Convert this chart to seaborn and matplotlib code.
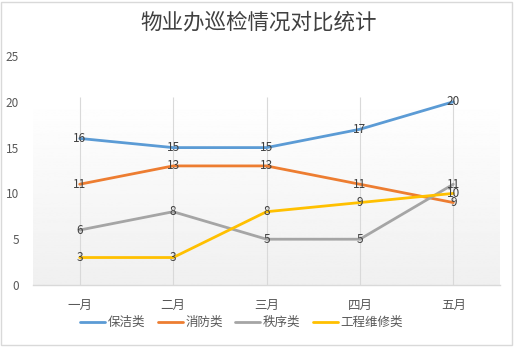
import numpy as np
import pandas as pd
import matplotlib
matplotlib.use("Agg")
import matplotlib.pyplot as plt
import seaborn as sns
from matplotlib.patches import Rectangle

months = ["一月", "二月", "三月", "四月", "五月"]
series_names = ["保洁类", "消防类", "秩序类", "工程维修类"]
baojie = [16, 15, 15, 17, 20]
xiaofang = [11, 13, 13, 11, 9]
zhixu = [6, 8, 5, 5, 11]
gongcheng = [3, 3, 8, 9, 10]
colors = ["#5B9BD5", "#ED7D31", "#A5A5A5", "#FFC000"]
yticks = [0, 5, 10, 15, 20, 25]

sns.set_theme(style="white")
plt.rcParams['font.family'] = ['Noto Sans CJK SC', 'DejaVu Sans']

values = [baojie, xiaofang, zhixu, gongcheng]
rows = []
for name, vals in zip(series_names, values):
    for i, v in enumerate(vals):
        rows.append({"pos": i, "month": months[i], "value": v, "series": name})
df = pd.DataFrame(rows)

fig = plt.figure(figsize=(5.18, 3.5), dpi=100)
fig.patch.set_facecolor("white")
ax = fig.add_axes([33/518, 65/350, 467/518, 229/350])
ax.set_facecolor("none")

# gradient background for plot area
top_val = 20.5
grad = np.linspace(1.0, 0.94, 256).reshape(-1, 1)
ax.imshow(grad, extent=(-0.5, 4.5, 0, top_val), aspect="auto", cmap="gray",
          vmin=0, vmax=1, origin="upper", zorder=0)
ax.vlines(range(len(months)), 0, top_val, colors="#D9D9D9", linewidth=0.8, zorder=1)

sns.lineplot(data=df, x="pos", y="value", hue="series", hue_order=series_names,
             palette=colors, linewidth=2, sort=False, ax=ax, zorder=3)

for name, vals in zip(series_names, values):
    for i, v in enumerate(vals):
        ax.text(i, v, str(v), ha="center", va="center", fontsize=8.5,
                color="#404040", zorder=5)

ax.set_xlim(-0.5, 4.5)
ax.set_ylim(0, 25)
ax.set_xticks(range(len(months)))
ax.set_xticklabels(months)
ax.set_yticks(yticks)
ax.tick_params(axis="x", length=0, pad=10, labelsize=9, labelcolor="#595959")
ax.tick_params(axis="y", length=0, pad=10, labelsize=8.5, labelcolor="#595959")
for s in ["top", "right", "left"]:
    ax.spines[s].set_visible(False)
ax.spines["bottom"].set_color("#D9D9D9")
ax.spines["bottom"].set_linewidth(1)
ax.set_xlabel("")
ax.set_ylabel("")
ax.grid(False)

handles, labels = ax.get_legend_handles_labels()
ax.legend_.remove()
fig.legend(handles, labels, loc="center", bbox_to_anchor=(0.466, 0.078), ncol=4,
           frameon=False, fontsize=9, labelcolor="#595959", handlelength=2.0,
           handletextpad=0.2, columnspacing=1.0)

fig.text(0.5, 1 - 23/350, "物业办巡检情况对比统计", ha="center", va="center",
         fontsize=15.5, color="#404040")

fig.patches.append(Rectangle((1/518, 5/350), 511/518, 343/350, transform=fig.transFigure,
                             fill=False, edgecolor="#D9D9D9", linewidth=1))

fig.savefig("out.png", dpi=100)
